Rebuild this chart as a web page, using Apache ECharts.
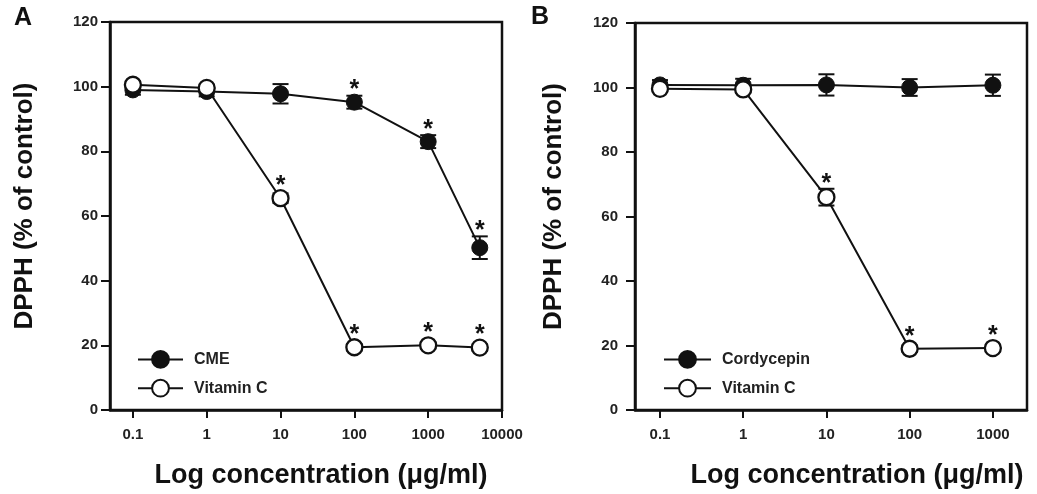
<!DOCTYPE html>
<html>
<head>
<meta charset="utf-8">
<script src="https://cdn.jsdelivr.net/npm/echarts@6/dist/echarts.min.js"></script>
<style>
  html, body { margin: 0; padding: 0; background: #fff; }
  #chart { width: 1037px; height: 494px; }
</style>
</head>
<body>
<div id="chart"></div>
<script>
// panel A : CME vs Vitamin C
var concA = [0.1, 1, 10, 100, 1000, 5000];
var cmeA = [99, 98.5, 97.8, 95.2, 83, 50.2];
var cmeErrA = [1.5, 1.5, 3, 2, 2, 3.5];
var cmeSigA = [0, 0, 0, 1, 1, 1];
var vitcA = [100.6, 99.6, 65.5, 19.4, 20, 19.3];
var vitcErrA = [1, 1, 1.5, 1, 1, 1];
var vitcSigA = [0, 0, 1, 1, 1, 1];

// panel B : Cordycepin vs Vitamin C
var concB = [0.1, 1, 10, 100, 1000];
var cordyB = [100.8, 100.7, 100.8, 100, 100.7];
var cordyErrB = [1.5, 2, 3.3, 2.6, 3.3];
var cordySigB = [0, 0, 0, 0, 0];
var vitcB = [99.6, 99.4, 66, 19, 19.2];
var vitcErrB = [1, 1, 2.6, 1, 1];
var vitcSigB = [0, 0, 1, 1, 1];

var xTicksA = [0.1, 1, 10, 100, 1000, 10000];
var xTicksB = [0.1, 1, 10, 100, 1000];

var FONT = '"Liberation Sans", Arial, sans-serif';
var INK = '#111';

function pts(conc, vals) {
  return conc.map(function (c, i) { return [Math.log10(c), vals[i]]; });
}
function errPts(conc, vals, errs) {
  return conc.map(function (c, i) { return [Math.log10(c), vals[i], errs[i]]; });
}
function sigPts(conc, vals, errs, sig) {
  var out = [];
  conc.forEach(function (c, i) {
    if (sig[i]) out.push([Math.log10(c), vals[i], errs[i]]);
  });
  return out;
}

function errorBars(idx, data) {
  return {
    type: 'custom', xAxisIndex: idx, yAxisIndex: idx, z: 2, clip: false,
    silent: true,
    data: data,
    renderItem: function (params, api) {
      var x = api.value(0), v = api.value(1), e = api.value(2);
      var hi = api.coord([x, v + e]);
      var lo = api.coord([x, v - e]);
      var w = 8;
      var st = { stroke: INK, lineWidth: 2 };
      return {
        type: 'group',
        children: [
          { type: 'line', shape: { x1: hi[0], y1: hi[1], x2: lo[0], y2: lo[1] }, style: st },
          { type: 'line', shape: { x1: hi[0] - w, y1: hi[1], x2: hi[0] + w, y2: hi[1] }, style: st },
          { type: 'line', shape: { x1: lo[0] - w, y1: lo[1], x2: lo[0] + w, y2: lo[1] }, style: st }
        ]
      };
    }
  };
}

function stars(idx, data) {
  return {
    type: 'custom', xAxisIndex: idx, yAxisIndex: idx, z: 6, clip: false,
    silent: true,
    data: data,
    renderItem: function (params, api) {
      var x = api.value(0), v = api.value(1), e = api.value(2);
      var top = Math.min(api.coord([x, v + e])[1], api.coord([x, v])[1] - 7);
      var p = api.coord([x, v]);
      return {
        type: 'text',
        x: p[0], y: top - 5,
        style: { text: '*', font: 'bold 25px ' + FONT, fill: INK, align: 'center', verticalAlign: 'middle' }
      };
    }
  };
}

function lineSeries(idx, name, data, filled) {
  return {
    type: 'line', name: name, xAxisIndex: idx, yAxisIndex: idx,
    data: data, z: filled ? 3 : 4,
    symbol: 'circle', symbolSize: 16,
    lineStyle: { color: INK, width: 2 },
    itemStyle: filled
      ? { color: INK, borderColor: INK, borderWidth: 1 }
      : { color: '#fff', borderColor: INK, borderWidth: 2.3 },
    emphasis: { disabled: true },
    silent: true
  };
}

function xAxis(idx, min, max, ticks, labelMargin, padLeft) {
  var vals = ticks.map(function (t) { return Math.log10(t); });
  return {
    type: 'value', gridIndex: idx, min: min, max: max,
    name: 'Log concentration (\u03bcg/ml)', nameLocation: 'middle', nameGap: 52,
    nameTextStyle: { fontFamily: FONT, fontWeight: 'bold', fontSize: 27, color: INK, padding: [0, 0, 0, padLeft] },
    axisLine: { show: true, onZero: false, lineStyle: { color: INK, width: 2.5 } },
    axisTick: { show: true, inside: false, length: 8, customValues: vals, lineStyle: { color: INK, width: 2 } },
    axisLabel: {
      customValues: vals, margin: labelMargin,
      fontFamily: FONT, fontWeight: 'bold', fontSize: 15, color: '#222',
      formatter: function (v) { return String(Math.round(Math.pow(10, v) * 10) / 10); }
    },
    splitLine: { show: false }
  };
}

function yAxis(idx, labelMargin, gap) {
  return {
    type: 'value', gridIndex: idx, min: 0, max: 120, interval: 20,
    name: 'DPPH (% of control)', nameLocation: 'middle', nameGap: gap, nameRotate: 90,
    nameTextStyle: { fontFamily: FONT, fontWeight: 'bold', fontSize: 26, color: INK, padding: [0, 0, 0, 20] },
    axisLine: { show: true, onZero: false, lineStyle: { color: INK, width: 2.5 } },
    axisTick: { show: true, inside: false, length: 9, lineStyle: { color: INK, width: 2 } },
    axisLabel: { margin: labelMargin, fontFamily: FONT, fontWeight: 'bold', fontSize: 15, color: '#222' },
    splitLine: { show: false }
  };
}

var legendText = { fontFamily: FONT, fontWeight: 'bold', fontSize: 16, color: '#222', padding: [0, 0, 0, 6] };

var option = {
  animation: false,
  backgroundColor: '#fff',
  title: [
    { text: 'A', left: 9, top: 1, textStyle: { fontFamily: FONT, fontWeight: 'bold', fontSize: 25, color: INK } },
    { text: 'B', left: 526, top: 0, textStyle: { fontFamily: FONT, fontWeight: 'bold', fontSize: 25, color: INK } }
  ],
  grid: [
    { left: 110, top: 22, width: 392, height: 392, show: true, borderColor: INK, borderWidth: 2.5, backgroundColor: 'transparent' },
    { left: 635, top: 23, width: 392, height: 392, show: true, borderColor: INK, borderWidth: 2.5, backgroundColor: 'transparent' }
  ],
  legend: [
    { data: ['CME', 'Vitamin C'], orient: 'vertical', left: 132, top: 345, itemWidth: 45, itemHeight: 21, itemGap: 10,
      textStyle: legendText, selectedMode: false },
    { data: ['Cordycepin', 'Vitamin C'], orient: 'vertical', left: 658, top: 345, itemWidth: 47, itemHeight: 21, itemGap: 10,
      textStyle: legendText, selectedMode: false }
  ],
  xAxis: [
    xAxis(0, -1.31, 4, xTicksA, 17, 30),
    xAxis(1, -1.30, 3.41, xTicksB, 17, 52)
  ],
  yAxis: [
    yAxis(0, 12, 72),
    yAxis(1, 17, 68)
  ],
  series: [
    errorBars(0, errPts(concA, cmeA, cmeErrA)),
    errorBars(0, errPts(concA, vitcA, vitcErrA)),
    lineSeries(0, 'CME', pts(concA, cmeA), true),
    lineSeries(0, 'Vitamin C', pts(concA, vitcA), false),
    stars(0, sigPts(concA, cmeA, cmeErrA, cmeSigA)),
    stars(0, sigPts(concA, vitcA, vitcErrA, vitcSigA)),

    errorBars(1, errPts(concB, cordyB, cordyErrB)),
    errorBars(1, errPts(concB, vitcB, vitcErrB)),
    lineSeries(1, 'Cordycepin', pts(concB, cordyB), true),
    lineSeries(1, 'Vitamin C', pts(concB, vitcB), false),
    stars(1, sigPts(concB, cordyB, cordyErrB, cordySigB)),
    stars(1, sigPts(concB, vitcB, vitcErrB, vitcSigB))
  ]
};

var chart = echarts.init(document.getElementById('chart'));
chart.setOption(option);
</script>
</body>
</html>
